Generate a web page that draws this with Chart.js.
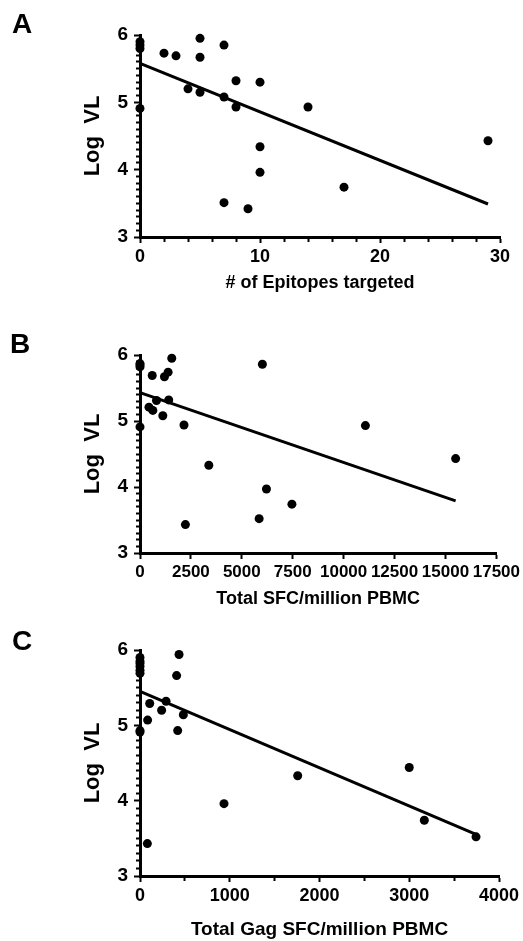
<!DOCTYPE html>
<html>
<head>
<meta charset="utf-8">
<script src="https://cdn.jsdelivr.net/npm/chart.js@4"></script>
<style>
  body { margin: 0; background: #fff; }
  #wrap { position: relative; width: 523px; height: 941px; }
  canvas { position: absolute; left: 0; }
</style>
</head>
<body>
<div id="wrap">
  <canvas id="chartA" width="523" height="310" style="top:0"></canvas>
  <canvas id="chartB" width="523" height="310" style="top:310px"></canvas>
  <canvas id="chartC" width="523" height="321" style="top:620px"></canvas>
</div>
<script>
// panel A: number of epitopes targeted vs log viral load
const epitopesX = [0, 0, 0, 0, 2, 3, 4, 5, 5, 5, 7, 7, 7, 8, 8, 9, 10, 10, 10, 14, 17, 29];
const epitopesVL = [5.90, 5.85, 5.80, 4.91, 5.73, 5.69, 5.20, 5.95, 5.67, 5.15, 5.85, 5.08, 3.51, 5.32, 4.93, 3.42, 5.30, 4.34, 3.96, 4.93, 3.74, 4.43];
const epitopesFitX = [0, 29];
const epitopesFitY = [5.58, 3.49];

// panel B: total SFC/million PBMC
const sfcX = [0, 0, 0, 0, 600, 1200, 1380, 1560, 440, 630, 810, 1410, 1120, 2160, 2230, 3380, 6010, 5850, 6210, 7460, 11070, 15500];
const sfcVL = [5.87, 5.85, 5.82, 4.91, 5.69, 5.67, 5.74, 5.95, 5.21, 5.16, 5.31, 5.32, 5.08, 4.94, 3.43, 4.33, 5.86, 3.52, 3.97, 3.74, 4.93, 4.43];
const sfcFitX = [0, 15500];
const sfcFitY = [5.43, 3.79];

// panel C: total Gag SFC/million PBMC
const gagX = [0, 0, 0, 0, 0, 0, 0, 0, 85, 108, 82, 241, 290, 483, 408, 435, 420, 936, 1757, 3000, 3168, 3744];
const gagVL = [5.90, 5.85, 5.82, 5.78, 5.73, 5.69, 4.91, 4.93, 5.07, 5.29, 3.43, 5.20, 5.32, 5.14, 5.66, 5.94, 4.93, 3.96, 4.33, 4.44, 3.74, 3.52];
const gagFitX = [0, 3750];
const gagFitY = [5.45, 3.55];

const yTicks = [3, 4, 5, 6];

const FONT = "'Liberation Sans', Arial, Helvetica, sans-serif";

const toPoints = (xs, ys) => xs.map((x, i) => ({ x: x, y: ys[i] }));

const panelLetter = {
  id: 'panelLetter',
  afterDraw(chart, args, opts) {
    const ctx = chart.ctx;
    ctx.save();
    ctx.fillStyle = '#000';
    ctx.font = 'bold ' + opts.size + 'px ' + FONT;
    ctx.textBaseline = 'alphabetic';
    ctx.fillText(opts.text, opts.x, opts.y);
    ctx.restore();
  }
};

function makePanel(id, cfg) {
  const isMajorY = v => yTicks.some(t => Math.abs(t - v) < 1e-6);
  const isMajorX = v => cfg.xMajor.some(t => Math.abs(t - v) < 1e-6);

  new Chart(document.getElementById(id), {
    type: 'scatter',
    data: {
      datasets: [
        {
          data: toPoints(cfg.xs, cfg.ys),
          backgroundColor: '#000',
          borderWidth: 0,
          pointRadius: 4.5,
          pointHoverRadius: 4.5,
          clip: false
        },
        {
          type: 'line',
          data: toPoints(cfg.fitX, cfg.fitY),
          borderColor: '#000',
          borderWidth: 3,
          pointRadius: 0,
          fill: false,
          clip: false
        }
      ]
    },
    options: {
      responsive: false,
      animation: false,
      events: [],
      layout: { padding: { left: 0, top: cfg.top, right: cfg.right, bottom: 0 } },
      plugins: {
        legend: { display: false },
        tooltip: { enabled: false },
        panelLetter: cfg.letter
      },
      scales: {
        x: {
          type: 'linear',
          min: cfg.xMin,
          max: cfg.xMax,
          border: { display: true, color: '#000', width: 3 },
          grid: {
            drawOnChartArea: false,
            tickLength: 6,
            tickColor: '#000',
            tickWidth: 2,
            tickBorderDash: ctx => isMajorX(ctx.tick.value) ? [] : [3, 20]
          },
          ticks: {
            stepSize: cfg.xStep,
            autoSkip: false,
            maxRotation: 0,
            padding: 3,
            color: '#000',
            font: { family: FONT, size: cfg.xTickSize, weight: 'bold' },
            callback: v => isMajorX(v) ? String(v) : ''
          },
          title: {
            display: true,
            text: cfg.xTitle,
            color: '#000',
            font: { family: FONT, size: cfg.xTitleSize, weight: 'bold' },
            padding: { top: 0, bottom: cfg.xTitlePad }
          },
          afterFit: s => { s.height = cfg.height - cfg.bottom; }
        },
        y: {
          type: 'linear',
          min: 3,
          max: 6,
          border: { display: true, color: '#000', width: 3 },
          grid: {
            drawOnChartArea: false,
            tickLength: 6,
            tickColor: '#000',
            tickWidth: 2,
            tickBorderDash: ctx => isMajorY(ctx.tick.value) ? [] : [0, 2, 10, 0]
          },
          ticks: {
            stepSize: 0.1,
            autoSkip: false,
            padding: 6,
            color: '#000',
            font: { family: FONT, size: 19, weight: 'bold' },
            callback: v => isMajorY(v) ? String(Math.round(v)) : ''
          },
          title: {
            display: true,
            text: 'Log  VL',
            color: '#000',
            font: { family: FONT, size: 22, weight: 'bold' },
            padding: { top: 80, bottom: 0 }
          },
          afterFit: s => { s.width = 140; }
        }
      }
    },
    plugins: [panelLetter]
  });
}

makePanel('chartA', {
  xs: epitopesX, ys: epitopesVL, fitX: epitopesFitX, fitY: epitopesFitY,
  xMin: 0, xMax: 30, xStep: 2, xMajor: [0, 10, 20, 30], xTickSize: 18,
  xTitle: '# of Epitopes targeted', xTitleSize: 18, xTitlePad: 16,
  height: 310, top: 35, bottom: 237, right: 23,
  letter: { text: 'A', x: 12, y: 33, size: 28 }
});

makePanel('chartB', {
  xs: sfcX, ys: sfcVL, fitX: sfcFitX, fitY: sfcFitY,
  xMin: 0, xMax: 17500, xStep: 2500, xMajor: [0, 2500, 5000, 7500, 10000, 12500, 15000, 17500], xTickSize: 17,
  xTitle: 'Total SFC/million PBMC', xTitleSize: 18, xTitlePad: 10,
  height: 310, top: 45, bottom: 243, right: 24,
  letter: { text: 'B', x: 10, y: 43, size: 28 }
});

makePanel('chartC', {
  xs: gagX, ys: gagVL, fitX: gagFitX, fitY: gagFitY,
  xMin: 0, xMax: 4000, xStep: 500, xMajor: [0, 1000, 2000, 3000, 4000], xTickSize: 18,
  xTitle: 'Total Gag SFC/million PBMC', xTitleSize: 19, xTitlePad: 0,
  height: 321, top: 30, bottom: 256, right: 24,
  letter: { text: 'C', x: 12, y: 30, size: 28 }
});
</script>
</body>
</html>
